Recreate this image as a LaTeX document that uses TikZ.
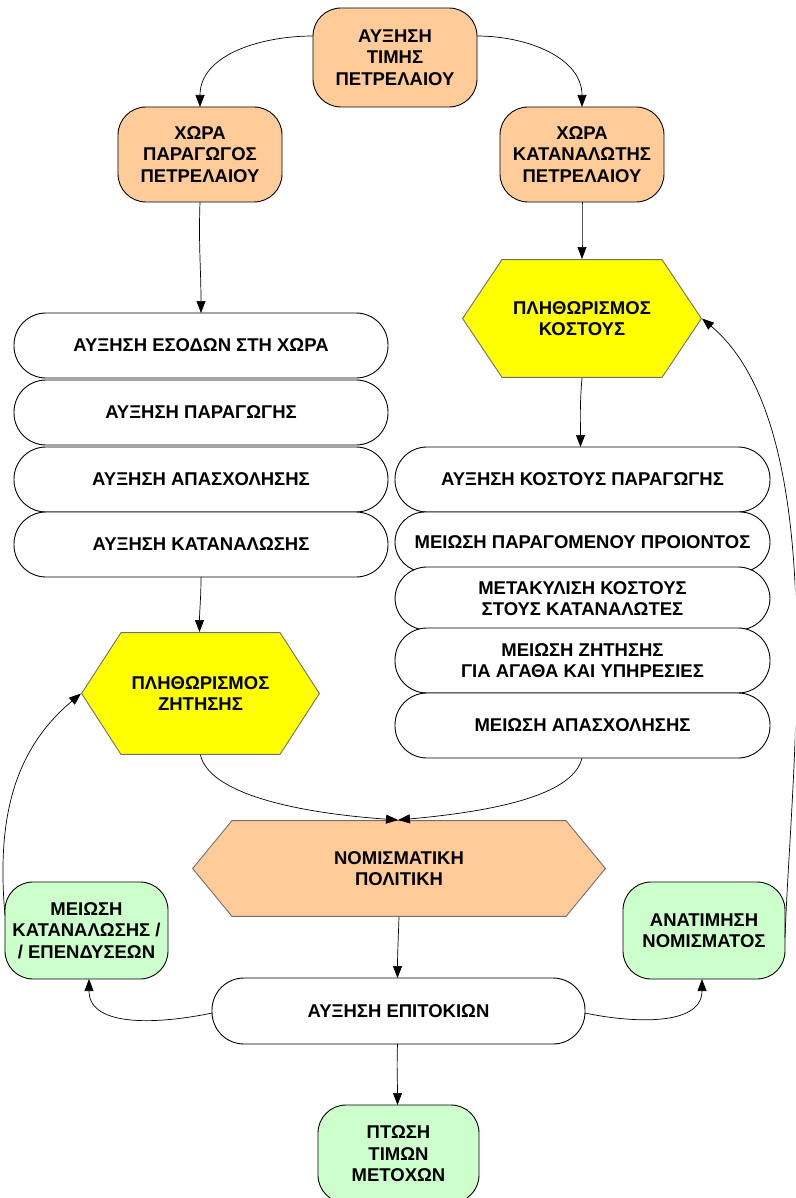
\documentclass[tikz,border=0pt]{standalone}
\usepackage{fontspec}
\setmainfont{Liberation Sans}[BoldFont={Liberation Sans Bold}]
\usetikzlibrary{arrows.meta,calc}
\definecolor{peach}{HTML}{FFCC99}
\definecolor{mint}{HTML}{CCFFCC}
\definecolor{hexyellow}{HTML}{FFFF00}
\definecolor{hexborder}{HTML}{707070}
\tikzset{
  base/.style={font=\fontsize{18.5}{21.5}\selectfont\bfseries, align=center, inner sep=0pt, outer sep=0pt},
  pill/.style={base, draw=black, line width=0.9pt, fill=white, rounded corners=32pt, minimum height=65pt},
  tallbox/.style={base, draw=black, line width=0.9pt, fill=#1, rounded corners=28pt, minimum width=163pt, minimum height=97pt},
  hexa/.style={base, minimum height=#1},
  hexfill/.style={path picture={
      \draw[fill=#1, draw=hexborder, line width=0.9pt]
        ([xshift=0.6pt]path picture bounding box.west)
        -- ([xshift=40pt,yshift=-0.6pt]path picture bounding box.north west)
        -- ([xshift=-40pt,yshift=-0.6pt]path picture bounding box.north east)
        -- ([xshift=-0.6pt]path picture bounding box.east)
        -- ([xshift=-40pt,yshift=0.6pt]path picture bounding box.south east)
        -- ([xshift=40pt,yshift=0.6pt]path picture bounding box.south west)
        -- cycle;}},
  link/.style={draw=black, line width=0.7pt, -{Triangle[length=12pt,width=9pt]}}
}
\begin{document}
\begin{tikzpicture}[x=1pt,y=1pt]
\useasboundingbox (0,0) rectangle (795,-1198);
\clip (0,0) rectangle (795,-1198);

% top row
\node[tallbox=peach, minimum width=164pt, minimum height=99pt] (top) at (395,-57.5) {ΑΥΞΗΣΗ\\ΤΙΜΗΣ\\ΠΕΤΡΕΛΑΙΟΥ};
\node[tallbox=peach, minimum width=164pt, minimum height=95pt] (xp) at (200,-154.5) {ΧΩΡΑ\\ΠΑΡΑΓΩΓΟΣ\\ΠΕΤΡΕΛΑΙΟΥ};
\node[tallbox=peach, minimum width=164pt, minimum height=95pt] (xk) at (582,-154.5) {ΧΩΡΑ\\ΚΑΤΑΝΑΛΩΤΗΣ\\ΠΕΤΡΕΛΑΙΟΥ};

% left column
\node[pill, minimum width=374pt] (l1) at (201,-345.5) {ΑΥΞΗΣΗ ΕΣΟΔΩΝ ΣΤΗ ΧΩΡΑ};
\node[pill, minimum width=374pt] (l2) at (201,-412.5) {ΑΥΞΗΣΗ ΠΑΡΑΓΩΓΗΣ};
\node[pill, minimum width=374pt] (l3) at (201,-479.5) {ΑΥΞΗΣΗ ΑΠΑΣΧΟΛΗΣΗΣ};
\node[pill, minimum width=374pt] (l4) at (201,-544.5) {ΑΥΞΗΣΗ ΚΑΤΑΝΑΛΩΣΗΣ};

% right column
\node[hexa=119pt, minimum width=240pt, hexfill=hexyellow] (hk) at (582,-318.5) {ΠΛΗΘΩΡΙΣΜΟΣ\\ΚΟΣΤΟΥΣ};
\node[pill, minimum width=375pt] (r1) at (582.5,-479.5) {ΑΥΞΗΣΗ ΚΟΣΤΟΥΣ ΠΑΡΑΓΩΓΗΣ};
\node[pill, minimum width=375pt, minimum height=60pt, rounded corners=30pt] (r2) at (582.5,-542) {ΜΕΙΩΣΗ ΠΑΡΑΓΟΜΕΝΟΥ ΠΡΟΙΟΝΤΟΣ};
\node[pill, minimum width=375pt, minimum height=63pt] (r3) at (582.5,-598.5) {ΜΕΤΑΚΥΛΙΣΗ ΚΟΣΤΟΥΣ\\ΣΤΟΥΣ ΚΑΤΑΝΑΛΩΤΕΣ};
\node[pill, minimum width=375pt] (r4) at (582.5,-660.5) {ΜΕΙΩΣΗ ΖΗΤΗΣΗΣ\\ΓΙΑ ΑΓΑΘΑ ΚΑΙ ΥΠΗΡΕΣΙΕΣ};
\node[pill, minimum width=375pt] (r5) at (582.5,-725.5) {ΜΕΙΩΣΗ ΑΠΑΣΧΟΛΗΣΗΣ};

% middle
\node[hexa=123pt, minimum width=239pt, hexfill=hexyellow] (hz) at (200.5,-693.5) {ΠΛΗΘΩΡΙΣΜΟΣ\\ΖΗΤΗΣΗΣ};
\node[hexa=97pt, minimum width=414pt, hexfill=peach] (hn) at (399,-868.5) {ΝΟΜΙΣΜΑΤΙΚΗ\\ΠΟΛΙΤΙΚΗ};

% bottom
\node[pill, minimum width=373pt, minimum height=66pt] (ep) at (398.5,-1011) {ΑΥΞΗΣΗ ΕΠΙΤΟΚΙΩΝ};
\node[tallbox=mint] (gl) at (86.5,-930.5) {ΜΕΙΩΣΗ\\ΚΑΤΑΝΑΛΩΣΗΣ /\\/ ΕΠΕΝΔΥΣΕΩΝ};
\node[tallbox=mint, minimum width=162pt] (gr) at (704,-930.5) {ΑΝΑΤΙΜΗΣΗ\\ΝΟΜΙΣΜΑΤΟΣ};
\node[tallbox=mint, minimum width=161pt, minimum height=98pt] (gb) at (398.5,-1154) {ΠΤΩΣΗ\\ΤΙΜΩΝ\\ΜΕΤΟΧΩΝ};

% connectors
\draw[link] ([yshift=21.5pt]top.west) to[out=180, in=90] (xp.north);
\draw[link] ([yshift=21.5pt]top.east) to[out=0, in=90] (xk.north);
\draw[link] (xp.south) to[out=-92, in=90] (l1.north);
\draw[link] (xk.south) to[out=-90, in=90] (hk.north);
\draw[link] (hk.south) to[out=-95, in=90] ([xshift=-2pt]r1.north);
\draw[link] (l4.south) to[out=-90, in=90] ([xshift=-1pt]hz.north);
\draw[link] (hz.south) .. controls +(8,-36) and +(-112,8) .. ([xshift=-1pt]hn.north);
\draw[link] ([xshift=-0.5pt]r5.south) .. controls +(-8,-34) and +(110,10) .. ([xshift=-1pt]hn.north);
\draw[link] (hn.south) to[out=-92, in=90] ([xshift=-1pt]ep.north);
\draw[link] ([yshift=-2pt]ep.west) to[out=192, in=-90] ([xshift=2.5pt]gl.south);
\draw[link] ([yshift=-2pt]ep.east) to[out=-12, in=-90] ([xshift=-2pt]gr.south);
\draw[link] ([xshift=-1pt]ep.south) to[out=-92, in=90] ([xshift=-1pt]gb.north);
\draw[link] ([yshift=15pt]gl.west) to[out=95, in=-140] (hz.west);
\draw[link] ([yshift=-7pt]gr.east) to[out=88, in=-40, looseness=0.7] (hk.east);
\end{tikzpicture}
\end{document}
